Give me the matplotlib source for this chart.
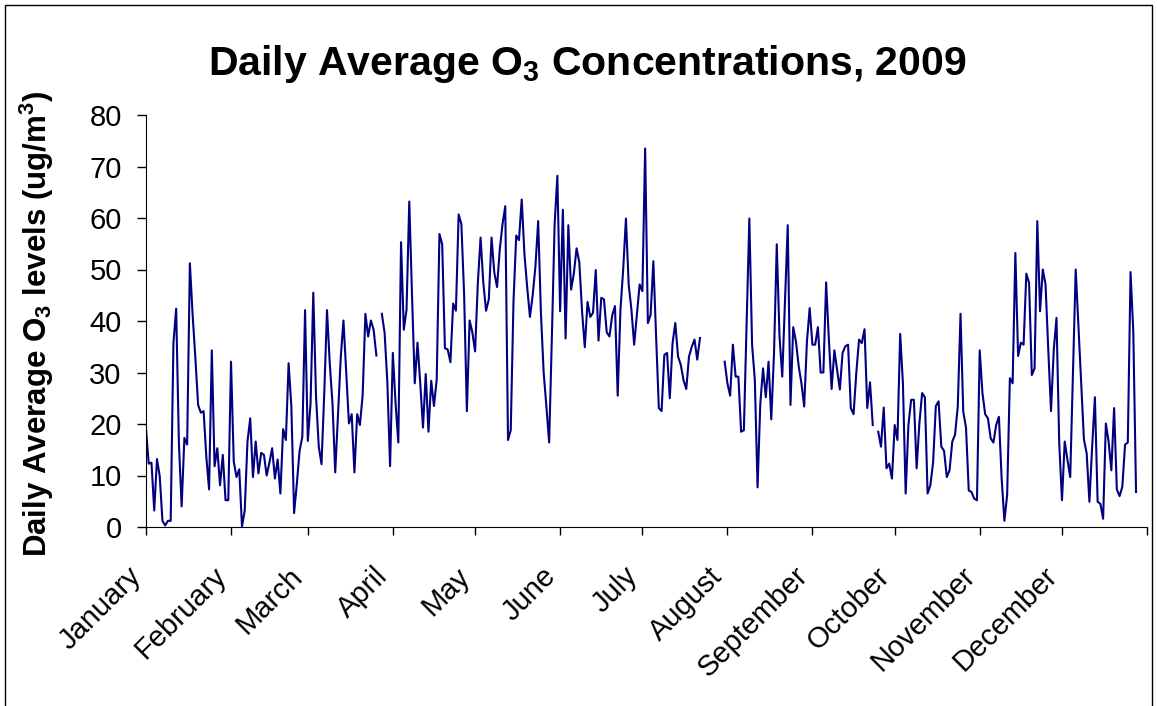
import numpy as np
import matplotlib
matplotlib.use("Agg")
from matplotlib import pyplot as plt
from matplotlib.patches import Rectangle
import matplotlib.transforms as mtransforms

plt.rcParams['font.family'] = ['Liberation Sans', 'DejaVu Sans']
plt.rcParams['mathtext.fontset'] = 'custom'
plt.rcParams['mathtext.rm'] = 'Liberation Sans:bold'
plt.rcParams['mathtext.default'] = 'rm'

nan = float('nan')

# daily average O3 (ug/m3), 2009, day 0 = Jan 1; nan = no data
o3 = [
    19.0, 12.3, 12.5, 3.2, 13.2, 9.9, 1.2, 0.3, 1.2, 1.2,
    35.7, 42.4, 16.2, 4.0, 17.3, 16.0, 51.2, 41.2, 32.8, 23.7,
    22.2, 22.5, 13.6, 7.3, 34.3, 11.8, 15.3, 8.1, 14.0, 5.2,
    5.2, 32.1, 12.7, 9.7, 11.2, 0.1, 3.2, 16.6, 21.1, 9.7,
    16.6, 10.4, 14.4, 14.0, 10.0, 12.5, 15.3, 9.4, 13.1, 6.5,
    19.0, 16.9, 31.8, 23.4, 2.7, 8.4, 14.8, 17.5, 42.1, 16.7,
    24.0, 45.5, 25.3, 15.6, 12.2, 26.0, 42.1, 31.8, 24.0, 10.6,
    21.7, 32.8, 40.1, 30.0, 20.1, 21.9, 10.6, 21.9, 19.8, 25.6,
    41.4, 37.0, 40.1, 38.3, 33.3, nan, 41.4, 37.7, 28.2, 11.8,
    33.8, 24.0, 16.4, 55.3, 38.3, 42.2, 63.2, 45.0, 27.9, 35.8,
    27.9, 19.3, 29.7, 18.5, 28.4, 23.5, 28.6, 56.9, 54.9, 34.7,
    34.5, 32.0, 43.4, 42.0, 60.7, 58.8, 45.1, 22.5, 40.1, 37.8,
    34.1, 47.4, 56.2, 47.4, 42.0, 44.2, 56.2, 49.4, 46.6, 53.9,
    58.8, 62.3, 16.9, 18.8, 43.8, 56.6, 55.7, 63.6, 52.9, 46.5,
    40.8, 45.0, 50.6, 59.4, 41.6, 30.0, 23.4, 16.4, 37.0, 58.8,
    68.2, 41.9, 61.6, 36.6, 58.6, 46.1, 49.2, 54.1, 51.4, 41.9,
    34.9, 43.7, 40.8, 41.6, 49.9, 36.2, 44.5, 44.2, 37.8, 37.0,
    41.1, 42.9, 25.5, 42.2, 50.0, 59.9, 47.1, 42.2, 35.4, 41.2,
    47.1, 45.8, 73.5, 39.6, 41.2, 51.6, 37.0, 23.1, 22.5, 33.4,
    33.8, 25.0, 35.7, 39.6, 33.1, 31.5, 28.5, 26.8, 33.1, 35.0,
    36.4, 32.5, 36.7, nan, nan, nan, nan, nan, nan, nan,
    nan, 32.1, 27.9, 25.5, 35.4, 29.2, 29.2, 18.5, 18.8, 39.0,
    59.9, 35.4, 28.6, 7.7, 24.0, 30.8, 25.2, 32.1, 20.9, 33.8,
    54.9, 37.0, 29.2, 44.0, 58.6, 23.7, 38.8, 36.0, 31.2, 27.9,
    23.4, 36.0, 42.5, 35.4, 35.4, 38.8, 30.0, 30.0, 47.5, 36.4,
    26.8, 34.3, 30.5, 26.7, 33.8, 35.1, 35.4, 23.1, 21.9, 29.9,
    36.4, 35.7, 38.4, 23.1, 28.1, 19.8, nan, 18.5, 15.6, 23.2,
    11.4, 12.3, 9.4, 19.8, 16.9, 37.5, 27.9, 6.5, 19.8, 24.7,
    24.7, 11.4, 20.1, 26.0, 25.2, 6.5, 8.1, 12.5, 23.5, 24.4,
    15.6, 14.8, 9.7, 11.0, 16.6, 17.9, 23.4, 41.4, 22.4, 19.3,
    7.1, 6.8, 5.5, 5.2, 34.3, 26.0, 21.9, 21.1, 17.2, 16.4,
    19.8, 21.4, 9.4, 1.2, 6.2, 28.9, 27.9, 53.2, 33.2, 35.8,
    35.4, 49.2, 47.4, 29.5, 30.8, 59.4, 41.9, 50.0, 47.1, 34.4,
    22.5, 34.4, 40.6, 16.2, 5.2, 16.6, 13.0, 9.7, 30.0, 50.0,
    39.0, 28.0, 17.0, 14.3, 4.9, 15.6, 25.2, 4.9, 4.5, 1.6,
    20.1, 16.6, 11.0, 23.1, 7.3, 6.0, 7.8, 16.0, 16.4, 49.5,
    38.0, 6.8,
]

months = ["January", "February", "March", "April", "May", "June", "July",
          "August", "September", "October", "November", "December"]
month_start = [0, 31, 59, 90, 120, 151, 181, 212, 243, 273, 304, 334, 365]

days = np.arange(len(o3))

fig = plt.figure(figsize=(11.57, 7.06), dpi=100)
ax = fig.add_axes([146 / 1157, 179 / 706, 1001 / 1157, 412 / 706])
ax.plot(days, o3, color="#000080", lw=1.5)

ax.set_xlim(0, 365)
ax.set_ylim(0, 80)
ax.set_yticks(range(0, 81, 10))
ax.set_xticks(month_start)
ax.set_xticklabels(months + [""], rotation=45, ha="right", va="top",
                   rotation_mode="anchor", fontsize=21)
ax.tick_params(axis="x", direction="out", length=6, width=1, pad=19)
ax.tick_params(axis="y", direction="out", length=6.5, width=1, pad=11,
               labelsize=21)
for s in ["top", "right"]:
    ax.spines[s].set_visible(False)

offset = mtransforms.ScaledTranslation(-19 / 100, 0, fig.dpi_scale_trans)
for lab in ax.get_xticklabels():
    lab.set_transform(lab.get_transform() + offset)

fig.text(587 / 1157, 1 - 75 / 706, "Daily Average O$_3$ Concentrations, 2009",
         ha="center", va="baseline", fontsize=29.5, fontweight="bold")
fig.text(37 / 1157, 1 - 324 / 706, "Daily Average O$_3$ levels (ug/m$^3$)",
         rotation=90, ha="center", va="center", fontsize=22.5, fontweight="bold")

fig.add_artist(Rectangle((5.5 / 1157, -0.01), (1152 - 5.5) / 1157,
                         700.5 / 706 + 0.01, transform=fig.transFigure,
                         fill=False, lw=1, ec="black"))

fig.savefig("out.png", dpi=100)
